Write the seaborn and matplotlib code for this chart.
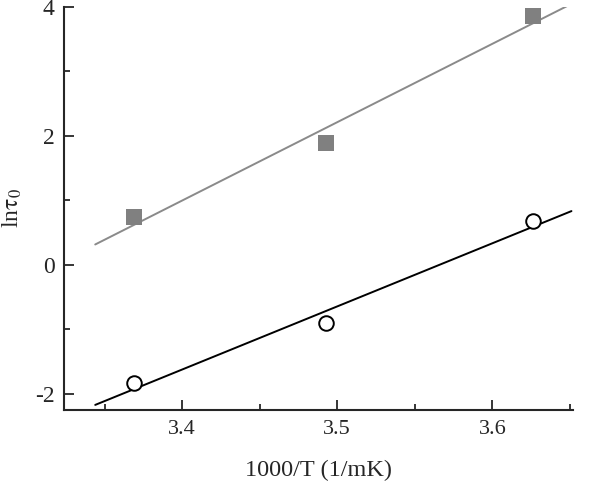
import numpy as np
import pandas as pd
import matplotlib
matplotlib.use('Agg')
import matplotlib.pyplot as plt
import seaborn as sns
from matplotlib.ticker import MultipleLocator

# data
x_vals = [3.369, 3.493, 3.626]
ln_tau_squares = [0.744, 1.89, 3.86]
ln_tau_circles = [-1.83, -0.90, 0.68]
fit_range = [3.344, 3.651]

sns.set_style('ticks')
plt.rcParams['font.family'] = ['Liberation Serif', 'DejaVu Serif']
plt.rcParams['mathtext.fontset'] = 'stix'

df = pd.DataFrame({'x': x_vals, 'sq': ln_tau_squares, 'ci': ln_tau_circles})

# linear fits
xf = np.linspace(fit_range[0], fit_range[1], 50)
fits = pd.DataFrame({'x': xf,
                     'sq': np.polyval(np.polyfit(df['x'], df['sq'], 1), xf),
                     'ci': np.polyval(np.polyfit(df['x'], df['ci'], 1), xf)})

fig = plt.figure(figsize=(6, 4.84), dpi=100)
ax = fig.add_axes([0.107, 0.153, 0.848, 0.8325])

sns.lineplot(data=fits, x='x', y='sq', color='#8a8a8a', linewidth=1.4, ax=ax)
sns.lineplot(data=fits, x='x', y='ci', color='black', linewidth=1.4, ax=ax)
sns.scatterplot(data=df, x='x', y='sq', marker='s', s=130, color='#808080',
                edgecolor='none', ax=ax, zorder=3)
ax.plot(df['x'], df['ci'], 'o', markersize=10.5, markerfacecolor='white',
        markeredgecolor='black', markeredgewidth=1.4, zorder=3)

ax.set_xlim(3.324, 3.652)
ax.set_ylim(-2.25, 4.0)
ax.xaxis.set_minor_locator(MultipleLocator(0.05))
ax.yaxis.set_minor_locator(MultipleLocator(1))
ax.set_xticks([3.4, 3.5, 3.6])
ax.set_xticklabels(['3.4', '3.5', '3.6'])
ax.set_yticks([-2, 0, 2, 4])
ax.set_yticklabels(['-2', '0', '2', '4'])

ax.tick_params(which='both', direction='in', width=1.3, labelsize=16, pad=7)
ax.tick_params(axis='y', labelsize=17)
ax.tick_params(which='major', length=7)
ax.tick_params(which='minor', length=4)
for side in ['top', 'right']:
    ax.spines[side].set_visible(False)
for side in ['left', 'bottom']:
    ax.spines[side].set_linewidth(1.5)

ax.set_xlabel('1000/T (1/mK)', fontsize=17.5, labelpad=15)
ax.set_ylabel(r'ln$\mathrm{\tau_0}$', fontsize=17, labelpad=8)

fig.savefig('out.png', dpi=100)
